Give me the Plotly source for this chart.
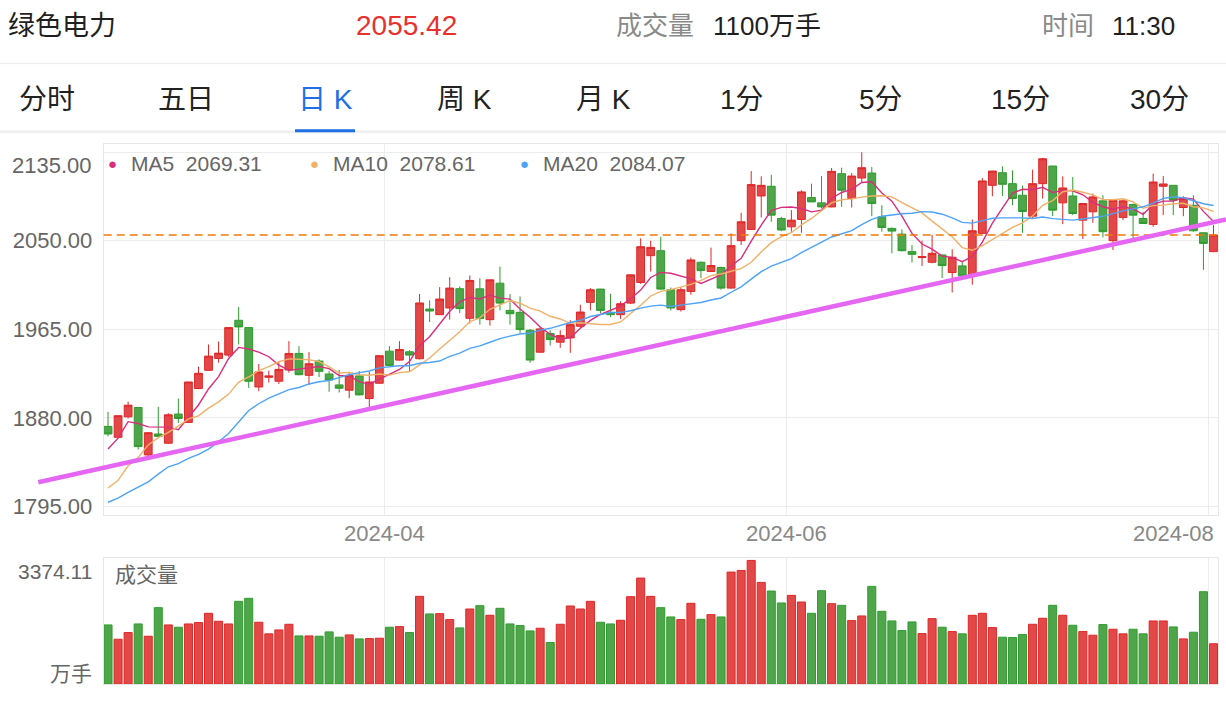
import plotly.graph_objects as go

W, H = 1226, 702

# ---------------- data ----------------
month_labels = ["2024-04", "2024-06", "2024-08"]
month_first_index = [28, 68, 110]

opens = [1871.8, 1861.3, 1881.0, 1889.9, 1844.4, 1864.5, 1855.6, 1883.6, 1875.6, 1908.1,
         1925.6, 1937.0, 1940.2, 1973.6, 1966.6, 1909.6, 1918.9, 1915.1, 1925.9, 1941.8,
         1920.8, 1934.5, 1922.1, 1911.6, 1906.5, 1920.2, 1898.5, 1913.2, 1944.0, 1935.4,
         1943.4, 1936.7, 1984.4, 1979.0, 1985.4, 2003.9, 1975.5, 2003.8, 1974.2, 2009.2,
         1983.1, 1981.2, 1964.0, 1943.0, 1960.9, 1952.6, 1956.7, 1967.9, 1990.8, 2003.5,
         1981.2, 1979.0, 1990.1, 2009.9, 2035.6, 2040.4, 2003.0, 1983.8, 2001.3, 2029.3,
         2020.4, 2024.2, 2004.5, 2050.0, 2060.8, 2092.9, 2102.2, 2071.3, 2063.3, 2070.3,
         2091.4, 2086.3, 2082.4, 2114.3, 2090.4, 2110.1, 2114.9, 2072.9, 2061.8, 2056.3,
         2039.5, 2033.8, 2029.3, 2036.3, 2019.4, 2025.8, 2017.2, 2057.0, 2103.1, 2115.2,
         2104.7, 2093.6, 2073.5, 2104.7, 2121.6, 2086.3, 2092.9, 2069.7, 2077.7, 2088.2,
         2050.0, 2072.3, 2084.7, 2071.3, 2065.6, 2102.2, 2103.1, 2081.8, 2084.0, 2057.6,
         2039.5]
highs = [1885.8, 1882.5, 1895.6, 1890.5, 1866.0, 1890.6, 1884.5, 1898.5, 1914.5, 1929.1,
         1950.4, 1953.2, 1966.8, 1986.3, 1966.8, 1931.6, 1925.2, 1934.5, 1953.6, 1948.8,
         1943.1, 1936.1, 1924.9, 1925.9, 1923.3, 1924.9, 1924.0, 1940.0, 1948.8, 1953.6,
         1945.0, 1998.8, 1992.7, 2005.4, 2015.0, 2006.1, 2016.6, 2014.0, 2012.6, 2025.1,
         1998.7, 1996.5, 1965.3, 1967.2, 1964.0, 1964.0, 1973.6, 1988.5, 2004.5, 2003.8,
         1999.0, 1991.7, 2017.5, 2052.2, 2050.0, 2053.8, 2005.0, 2005.4, 2033.8, 2030.0,
         2043.3, 2025.1, 2057.0, 2076.7, 2116.8, 2111.7, 2113.3, 2072.9, 2079.3, 2098.4,
         2104.7, 2112.0, 2119.7, 2120.0, 2114.9, 2134.9, 2120.6, 2084.0, 2062.7, 2060.8,
         2045.8, 2050.0, 2055.4, 2036.5, 2041.7, 2029.9, 2070.3, 2110.1, 2117.0, 2121.3,
         2117.4, 2102.9, 2118.1, 2129.5, 2121.8, 2111.7, 2111.1, 2085.8, 2095.2, 2093.6,
         2089.0, 2089.4, 2085.6, 2077.7, 2114.3, 2112.0, 2103.3, 2092.6, 2093.6, 2057.8,
         2064.9]
lows = [1862.2, 1860.5, 1879.4, 1849.5, 1842.2, 1862.0, 1854.9, 1875.0, 1875.0, 1907.5,
        1925.0, 1932.9, 1938.6, 1950.4, 1908.7, 1905.5, 1913.8, 1912.5, 1923.3, 1920.8,
        1911.3, 1919.2, 1904.9, 1904.3, 1898.8, 1901.5, 1889.9, 1912.8, 1929.7, 1935.0,
        1924.0, 1936.0, 1972.0, 1978.6, 1974.3, 1980.6, 1970.5, 1969.4, 1968.5, 1983.1,
        1969.4, 1961.5, 1932.9, 1942.4, 1949.4, 1947.2, 1942.4, 1966.3, 1983.1, 1980.6,
        1976.8, 1974.9, 1989.2, 2008.6, 2020.4, 2003.0, 1983.0, 1982.0, 1998.1, 2014.0,
        2020.0, 2002.9, 2004.0, 2045.8, 2060.5, 2072.3, 2068.1, 2059.2, 2058.6, 2057.6,
        2087.0, 2080.9, 2082.0, 2082.4, 2081.8, 2106.3, 2073.5, 2058.6, 2037.9, 2039.5,
        2029.0, 2025.8, 2028.3, 2014.0, 2000.3, 2016.0, 2007.7, 2056.5, 2092.6, 2092.9,
        2084.0, 2057.6, 2071.3, 2090.4, 2073.5, 2065.9, 2074.5, 2051.6, 2067.2, 2053.2,
        2041.1, 2069.7, 2052.2, 2066.0, 2063.3, 2074.5, 2074.5, 2073.5, 2058.6, 2022.0,
        2039.0]
closes = [1864.5, 1882.0, 1892.1, 1852.4, 1865.7, 1862.2, 1882.9, 1879.4, 1914.4, 1922.7,
          1939.2, 1942.1, 1966.6, 1967.2, 1915.1, 1924.0, 1920.2, 1926.5, 1941.8, 1921.4,
          1931.9, 1924.6, 1916.3, 1908.4, 1920.8, 1902.0, 1914.4, 1939.6, 1930.3, 1945.6,
          1940.2, 1990.2, 1982.5, 1994.0, 2004.5, 1984.8, 2011.8, 1975.2, 2012.4, 1990.1,
          1979.9, 1964.7, 1935.4, 1965.3, 1955.1, 1958.9, 1969.4, 1981.5, 2002.9, 1983.1,
          1979.0, 1989.5, 2017.2, 2044.2, 2043.6, 2003.5, 1985.4, 2002.9, 2031.5, 2021.3,
          2026.1, 2004.5, 2045.2, 2068.1, 2103.8, 2103.1, 2074.5, 2060.2, 2069.7, 2096.8,
          2087.2, 2082.4, 2116.5, 2098.4, 2112.0, 2120.0, 2085.6, 2062.7, 2059.2, 2040.4,
          2036.9, 2034.7, 2037.9, 2026.1, 2034.1, 2016.3, 2059.5, 2107.3, 2116.8, 2104.1,
          2090.4, 2078.0, 2104.7, 2128.6, 2079.3, 2100.6, 2076.1, 2085.6, 2092.0, 2058.6,
          2088.8, 2088.2, 2074.5, 2066.5, 2106.3, 2104.4, 2088.8, 2090.4, 2059.5, 2047.4,
          2055.42]
volumes = [1614, 1224, 1406, 1641, 1306, 2086, 1614, 1551, 1641, 1678,
           1932, 1714, 1641, 2258, 2340, 1687, 1370, 1478, 1632, 1315,
           1315, 1306, 1424, 1279, 1342, 1233, 1242, 1252, 1551, 1569,
           1406, 2394, 1914, 1922, 1759, 1533, 2049, 2140, 1877, 2068,
           1641, 1596, 1451, 1524, 1134, 1632, 2131, 2049, 2258, 1687,
           1641, 1741, 2385, 2893, 2394, 2086, 1832, 1759, 2204, 1768,
           1895, 1832, 3056, 3101, 3374.11, 2775, 2539, 2213, 2421, 2240,
           1932, 2548, 2194, 2149, 1732, 1859, 2666, 1986, 1723, 1460,
           1696, 1378, 1786, 1551, 1433, 1370, 1877, 1932, 1542, 1279,
           1270, 1351, 1632, 1796, 2149, 1877, 1605, 1433, 1333, 1623,
           1496, 1370, 1496, 1370, 1723, 1723, 1560, 1233, 1415, 2521,
           1100]

ma5_lead = [1850.1, 1860.5, 1876.3, 1874.5]
ma10_lead = [1812.6, 1820.0, 1834.0, 1842.0, 1854.0, 1861.0, 1866.0, 1872.0, 1879.0]
ma20_lead = [1799.0, 1803.0, 1808.5, 1813.5, 1818.5, 1826.0, 1833.0, 1836.0, 1841.0, 1845.0,
             1850.0, 1857.0, 1865.0, 1876.0, 1887.0, 1893.5, 1899.0, 1903.0, 1907.0]

# hand-drawn support line, two anchor points (candle index, price)
trend_index = [-6.94, 111.24]
trend_price = [1818.2, 2070.3]

price_ticks = [1795, 1880, 1965, 2050, 2135]
volume_max_label = "3374.11"
ma_legend = [("MA5", "2069.31"), ("MA10", "2078.61"), ("MA20", "2084.07")]

stock_name = "绿色电力"
last_price_text = "2055.42"
volume_text = "1100万手"
time_text = "11:30"
tabs = ["分时", "五日", "日 K", "周 K", "月 K", "1分", "5分", "15分", "30分"]
active_tab = 2

# ---------------- styling ----------------
RED_FILL, RED_LINE = "#E34848", "#E02626"
GREEN_FILL, GREEN_LINE = "#4FA64A", "#2E9C2E"
MA_COLORS = ["#D92D7E", "#F1B068", "#4DA3F5"]
GRID = "#ECECEC"
BORDER = "#E6E6E6"
FONT = "Liberation Sans, Noto Sans CJK SC, sans-serif"

X_RANGE = [-0.43, 110.48]
X_DOM = [103.7 / W, 1218.3 / W]
Y_RANGE = [1786.7, 2142.6]
Y_DOM = [1 - 518 / H, 1 - 145 / H]
V_DOM = [1 - 688 / H, 1 - 561 / H]
V_RANGE = [0, 3446]


def px(x):
    return x / W


def py(y):
    return 1 - y / H


def to_paper_x(v):
    return X_DOM[0] + (v - X_RANGE[0]) / (X_RANGE[1] - X_RANGE[0]) * (X_DOM[1] - X_DOM[0])


def to_paper_y(v):
    return Y_DOM[0] + (v - Y_RANGE[0]) / (Y_RANGE[1] - Y_RANGE[0]) * (Y_DOM[1] - Y_DOM[0])


def moving_average(vals, n, lead):
    out = list(lead)
    for i in range(n - 1, len(vals)):
        out.append(sum(vals[i - n + 1:i + 1]) / n)
    return out


x = list(range(len(closes)))
ma5 = moving_average(closes, 5, ma5_lead)
ma10 = moving_average(closes, 10, ma10_lead)
ma20 = moving_average(closes, 20, ma20_lead)

up = [c >= o for o, c in zip(opens, closes)]

fig = go.Figure()
fig.add_trace(go.Candlestick(
    x=x, open=opens, high=highs, low=lows, close=closes,
    increasing=dict(line=dict(color=RED_LINE, width=1), fillcolor=RED_FILL),
    decreasing=dict(line=dict(color=GREEN_LINE, width=1), fillcolor=GREEN_FILL),
    whiskerwidth=0, hoverinfo="skip", xaxis="x", yaxis="y"))
for ma, col in zip([ma5, ma10, ma20], MA_COLORS):
    fig.add_trace(go.Scatter(x=x, y=ma, mode="lines", line=dict(color=col, width=1.4),
                             hoverinfo="skip", xaxis="x", yaxis="y"))
fig.add_trace(go.Bar(
    x=x, y=volumes,
    marker=dict(color=[RED_FILL if u else GREEN_FILL for u in up],
                line=dict(color=[RED_LINE if u else GREEN_LINE for u in up], width=1)),
    hoverinfo="skip", xaxis="x2", yaxis="y2"))

grid_x = [i - 0.45 for i in month_first_index]

fig.update_layout(
    width=W, height=H, margin=dict(l=0, r=0, t=0, b=0),
    paper_bgcolor="white", plot_bgcolor="white", showlegend=False,
    font=dict(family=FONT, color="#666"),
    boxgap=0.12, boxgroupgap=0.12, bargap=0.2,
    xaxis=dict(domain=X_DOM, range=X_RANGE, tickvals=grid_x, showticklabels=False,
               showgrid=True, gridcolor=GRID, showline=True, linecolor=BORDER, mirror=True,
               zeroline=False, rangeslider=dict(visible=False), anchor="y", fixedrange=True),
    yaxis=dict(domain=Y_DOM, range=Y_RANGE, tickvals=price_ticks,
               ticktext=[f"{v:.2f}" if v != price_ticks[-1] else "" for v in price_ticks],
               tickfont=dict(size=22, color="#666"), ticklabelstandoff=6,
               showgrid=True, gridcolor=GRID, showline=True, linecolor=BORDER, mirror=True,
               zeroline=False, anchor="x", fixedrange=True),
    xaxis2=dict(domain=X_DOM, range=X_RANGE, tickvals=grid_x, showticklabels=False,
                showgrid=True, gridcolor=GRID, showline=True, linecolor=BORDER, mirror=True,
                zeroline=False, anchor="y2", fixedrange=True),
    yaxis2=dict(domain=V_DOM, range=V_RANGE, showticklabels=False, showgrid=False,
                showline=True, linecolor=BORDER, mirror=True, zeroline=False,
                anchor="x2", fixedrange=True),
)

shapes = []
# header separator
shapes.append(dict(type="line", xref="paper", yref="paper", x0=0, x1=1, y0=py(64), y1=py(64),
                   line=dict(color="#EBEBEB", width=1)))
# tab bar bottom band
shapes.append(dict(type="line", xref="paper", yref="paper", x0=0, x1=1, y0=py(132.5), y1=py(132.5),
                   line=dict(color="#F0F0F0", width=3)))
# active tab underline
tab_centers = [47 + 139 * k for k in range(len(tabs))]
shapes.append(dict(type="line", xref="paper", yref="paper",
                   x0=px(tab_centers[active_tab] - 30), x1=px(tab_centers[active_tab] + 30),
                   y0=py(131.5), y1=py(131.5), line=dict(color="#1E6FE6", width=3)))
# last price dashed line
shapes.append(dict(type="line", xref="x domain", yref="y", x0=0, x1=1,
                   y0=closes[-1], y1=closes[-1],
                   line=dict(color="#F07A0A", width=1.5, dash="8px,5px"), layer="above"))
# support trend line
shapes.append(dict(type="line", xref="paper", yref="paper",
                   x0=to_paper_x(trend_index[0]), y0=to_paper_y(trend_price[0]),
                   x1=to_paper_x(trend_index[1]), y1=to_paper_y(trend_price[1]),
                   line=dict(color="#E466F2", width=4.5), layer="above"))
fig.update_layout(shapes=shapes)

ann = []


def text(x0, y0, s, size, color, xanchor="left", yanchor="middle", xref="paper", yref="paper"):
    ann.append(dict(x=x0, y=y0, xref=xref, yref=yref, text=s, showarrow=False,
                    xanchor=xanchor, yanchor=yanchor,
                    font=dict(family=FONT, size=size, color=color)))


# header
text(px(6), py(26), stock_name, 27, "#1F1F1F")
text(px(406), py(26), last_price_text, 28, "#E8302F", xanchor="center")
text(px(614), py(26), "成交量", 26, "#8A8A8A")
text(px(711), py(26), volume_text, 26, "#1F1F1F")
text(px(1040), py(26), "时间", 26, "#8A8A8A")
text(px(1110), py(26), time_text, 26, "#1F1F1F")
# tabs
for k, t in enumerate(tabs):
    text(px(tab_centers[k]), py(100), t, 28, "#1E6FE6" if k == active_tab else "#222222",
         xanchor="center")
# MA legend
legend_dots = [112, 314, 524]
for (name, val), col, dx in zip(ma_legend, MA_COLORS, legend_dots):
    text(px(dx), py(164), "●", 15, col, xanchor="center")
    text(px(dx + 17), py(164), f"{name}&nbsp;&nbsp;{val}", 21, "#666666")
# top price label (kept inside the panel)
text(px(94), py(166), f"{price_ticks[-1]:.2f}", 22, "#666666", xanchor="right")
# month labels
for k, (i, lab) in enumerate(zip(grid_x, month_labels)):
    if k == len(month_labels) - 1:
        text(X_RANGE[1] - 0.2, py(537), lab, 22, "#888888", xanchor="right", xref="x")
    else:
        text(i, py(537), lab, 22, "#888888", xanchor="center", xref="x")
# volume panel labels
text(px(94), py(575), volume_max_label, 21, "#666666", xanchor="right")
text(px(94), py(677), "万手", 21, "#666666", xanchor="right")
text(px(113), py(578), "成交量", 21, "#666666")
fig.update_layout(annotations=ann)

fig.write_html("out.html")
